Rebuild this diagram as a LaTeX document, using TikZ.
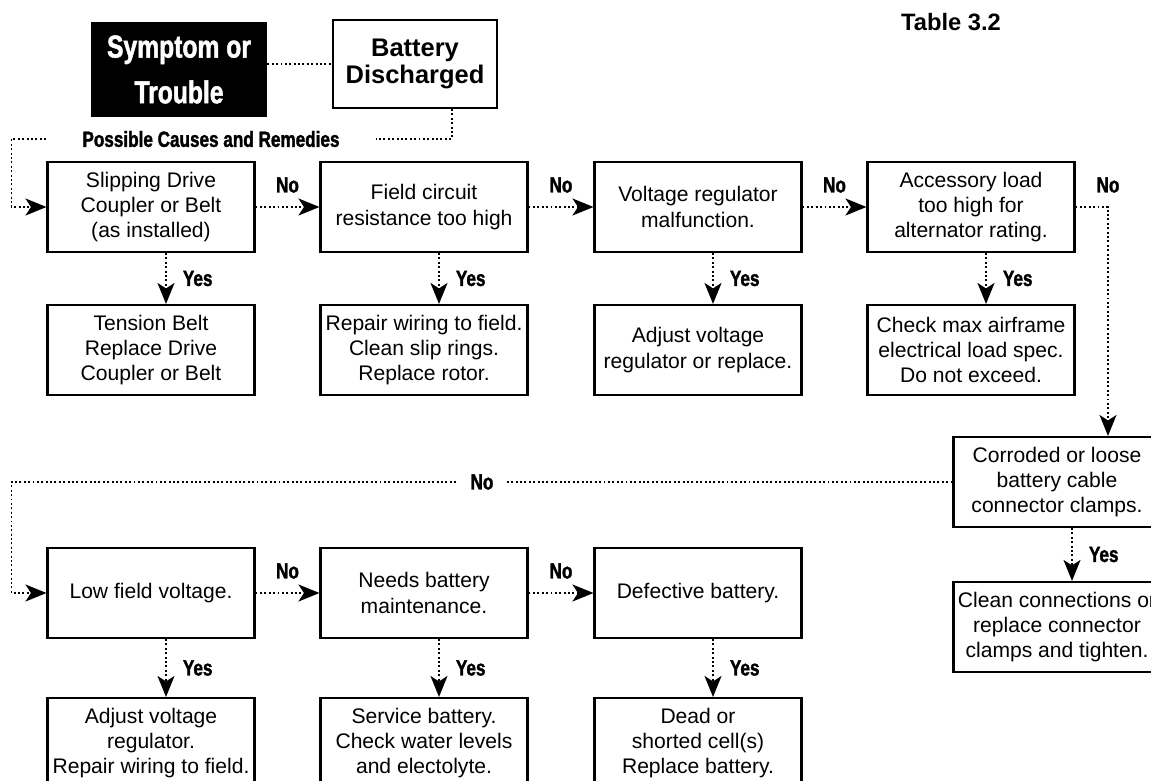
\documentclass[tikz,border=0pt]{standalone}
\usepackage{fontspec}
\setmainfont{Liberation Sans}
\newfontfamily\condfont{Liberation Sans}[FakeStretch=0.78,BoldFeatures={FakeBold=1.5}]
\usetikzlibrary{calc}
\usetikzlibrary{arrows.meta}
\usetikzlibrary{positioning}
\tikzset{box/.style={draw=black, line width=1.2pt, minimum width=4.14cm, minimum height=1.8cm, inner sep=0pt, align=center, font=\fontsize{12}{14.3}\selectfont}}
\tikzset{dots/.style={line width=1.1pt, dash pattern=on 1.1pt off 1.4pt}}
\tikzset{flow/.style={dots, -{Stealth[length=4.2mm,width=3.4mm,inset=1.1mm]}}}
\tikzset{answer/.style={font=\condfont\bfseries\fontsize{12.5}{13}\selectfont, inner sep=0pt}}

\begin{document}
\begin{tikzpicture}[x=0.02cm, y=-0.02cm]
\useasboundingbox (0,0) rectangle (1151,780);

% header
\node[fill=black, text=white, minimum width=3.52cm, minimum height=1.9cm, align=center,
      font=\condfont\bfseries\fontsize{18}{26}\selectfont] (sym) at (179,69.5) {Symptom or\\Trouble};
\node[draw=black, line width=1.2pt, minimum width=3.28cm, minimum height=1.76cm, align=center,
      font=\bfseries\fontsize{14.5}{15.5}\selectfont] (bat) at (415,64) {Battery\\Discharged};
\node[answer, inner xsep=0.72cm] (causes) at (211,139) {Possible Causes and Remedies};
\node[font=\bfseries\fontsize{13.5}{15}\selectfont] (tbl) at (951,22) {Table 3.2};

% causes
\node[box] (c1) at (151,207) {Slipping Drive\\Coupler or Belt\\(as installed)};
\node[box] (c2) at (424,207) {Field circuit\\resistance too high};
\node[box] (c3) at (698,207) {Voltage regulator\\malfunction.};
\node[box] (c4) at (971,207) {Accessory load\\too high for\\alternator rating.};
\node[box] (c5) at (1057,482) {Corroded or loose\\battery cable\\connector clamps.};
\node[box] (c6) at (151,593) {Low field voltage.};
\node[box] (c7) at (424,593) {Needs battery\\maintenance.};
\node[box] (c8) at (698,593) {Defective battery.};

% remedies
\node[box] (r1) at (151,350) {Tension Belt\\Replace Drive\\Coupler or Belt};
\node[box] (r2) at (424,350) {Repair wiring to field.\\Clean slip rings.\\Replace rotor.};
\node[box] (r3) at (698,350) {Adjust voltage\\regulator or replace.};
\node[box] (r4) at (971,350) {Check max airframe\\electrical load spec.\\Do not exceed.};
\node[box] (r5) at (1057,627) {Clean connections or\\replace connector\\clamps and tighten.};
\node[box] (r6) at (151,743) {Adjust voltage\\regulator.\\Repair wiring to field.};
\node[box] (r7) at (424,743) {Service battery.\\Check water levels\\and electolyte.};
\node[box] (r8) at (698,743) {Dead or\\shorted cell(s)\\Replace battery.};

\draw[dots] (bat.west -| sym.east) -- (bat.west);
\draw[dots] ([xshift=0.74cm]bat.south) |- (causes.east);
\draw[flow] (causes.west) -| ([xshift=-0.7cm]c1.west) -- (c1.west);

\foreach \i in {1,...,8} {
	\draw[flow] ([xshift=0.3cm]c\i.south) -- ([xshift=0.3cm]r\i.north) node[answer, midway, right=0.32cm] {Yes};
}

\foreach \i / \j in {1/2,2/3,3/4,6/7,7/8} {
	\draw[flow] (c\i.east) -- (c\j.west) node[answer, midway, yshift=0.44cm] {No};
}
\draw[flow] (c4.east) -| ([xshift=1.02cm]c5.north) node[answer, pos=0.5, yshift=0.44cm] {No};
\draw[flow] (c5.west) -| ([xshift=-0.7cm]c6.west) node[answer, pos=0.25, fill=white, inner xsep=0.27cm] {No} -- (c6.west);

\end{tikzpicture}
\end{document}
